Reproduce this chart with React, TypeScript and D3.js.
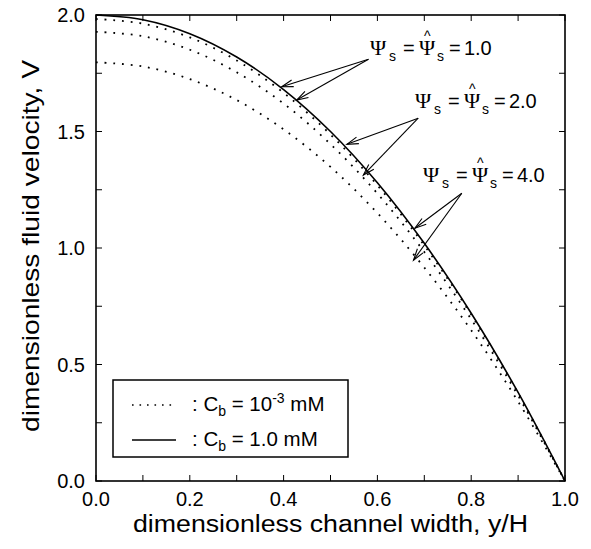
import React from 'react';
import * as d3 from 'd3';

// y/H positions at which the curves were read
const xPos = [0, 0.1, 0.2, 0.3, 0.4, 0.5, 0.6, 0.7, 0.8, 0.9, 1.0];
// Cb = 1.0 mM (solid; the three Psi values overlap)
const solidCb1 = [2.0, 1.98, 1.92, 1.82, 1.68, 1.5, 1.28, 1.02, 0.72, 0.38, 0];
// Cb = 1e-3 mM (dotted)
const dottedPsi1 = [1.983, 1.963, 1.904, 1.805, 1.666, 1.487, 1.269, 1.011, 0.714, 0.377, 0];
const dottedPsi2 = [1.928, 1.909, 1.851, 1.754, 1.62, 1.446, 1.234, 0.983, 0.694, 0.366, 0];
const dottedPsi4 = [1.797, 1.779, 1.725, 1.635, 1.509, 1.348, 1.15, 0.916, 0.647, 0.341, 0];

const xMajor = [0, 0.2, 0.4, 0.6, 0.8, 1.0];
const xMinor = [0.1, 0.3, 0.5, 0.7, 0.9];
const yMajor = [0, 0.5, 1.0, 1.5, 2.0];
const yMinor = [0.25, 0.75, 1.25, 1.75];

// annotations (data coordinates)
const annValues = ['1.0', '2.0', '4.0'];
const annTextX = [0.584, 0.68, 0.697];
const annTextY = [1.828, 1.601, 1.283];
const arrowFromX = [0.581, 0.687, 0.78];
const arrowFromY = [1.81, 1.557, 1.235];
const arrowSolidTipX = [0.396, 0.535, 0.68];
const arrowSolidTipY = [1.692, 1.445, 1.085];
const arrowDotTipX = [0.428, 0.57, 0.677];
const arrowDotTipY = [1.635, 1.313, 0.948];

const W = 591, H = 549;
const M = { left: 96, top: 15, right: 26, bottom: 68 };
const SANS = 'Liberation Sans, Arial, Helvetica, sans-serif';
const SERIF = 'Liberation Serif, Times New Roman, serif';

function Arrow({ x1, y1, x2, y2 }: { x1: number; y1: number; x2: number; y2: number }) {
  const ang = Math.atan2(y1 - y2, x1 - x2);
  const L = 12, a = (17 * Math.PI) / 180;
  const h1 = [x2 + L * Math.cos(ang + a), y2 + L * Math.sin(ang + a)];
  const h2 = [x2 + L * Math.cos(ang - a), y2 + L * Math.sin(ang - a)];
  return (
    <g stroke="#000" strokeWidth={1.1} fill="none">
      <line x1={x1} y1={y1} x2={x2} y2={y2} />
      <polyline points={`${h1[0]},${h1[1]} ${x2},${y2} ${h2[0]},${h2[1]}`} />
    </g>
  );
}

export default function App() {
  const x = d3.scaleLinear().domain([0, 1]).range([M.left, W - M.right]);
  const y = d3.scaleLinear().domain([0, 2]).range([H - M.bottom, M.top]);
  const line = (vals: number[]) =>
    d3
      .line<number>()
      .x((_, i) => x(xPos[i]))
      .y((v) => y(v))
      .curve(d3.curveCatmullRom.alpha(0.5))(vals) as string;

  const x0 = x(0), x1 = x(1), y0 = y(0), y1 = y(2);
  const tk = 6;

  return (
    <svg width={W} height={H} style={{ position: 'absolute', left: 0, top: 0, background: '#fff' }}>
      <rect width={W} height={H} fill="#fff" />
      {/* curves */}
      {[dottedPsi1, dottedPsi2, dottedPsi4].map((d, i) => (
        <path key={'d' + i} d={line(d)} fill="none" stroke="#000" strokeWidth={1.8} strokeDasharray="1.8 6.9" />
      ))}
      <path d={line(solidCb1)} fill="none" stroke="#000" strokeWidth={1.6} />

      {/* frame */}
      <rect x={x0} y={y1} width={x1 - x0} height={y0 - y1} fill="none" stroke="#000" strokeWidth={1.6} />
      {/* ticks */}
      <g stroke="#000" strokeWidth={1}>
        {[...xMajor, ...xMinor].map((v, i) => (
          <g key={'xt' + i}>
            <line x1={x(v)} x2={x(v)} y1={y0} y2={y0 - tk} />
            <line x1={x(v)} x2={x(v)} y1={y1} y2={y1 + tk} />
          </g>
        ))}
        {[...yMajor, ...yMinor].map((v, i) => (
          <g key={'yt' + i}>
            <line x1={x0} x2={x0 + tk} y1={y(v)} y2={y(v)} />
            <line x1={x1} x2={x1 - tk} y1={y(v)} y2={y(v)} />
          </g>
        ))}
      </g>
      {/* tick labels */}
      <g fontFamily={SANS} fontSize={20} fill="#000">
        {xMajor.map((v, i) => (
          <text key={'xl' + i} x={x(v)} y={y0 + 25} textAnchor="middle">
            {d3.format('.1f')(v)}
          </text>
        ))}
        {yMajor.map((v, i) => (
          <text key={'yl' + i} x={x0 - 11} y={y(v) + 7} textAnchor="end">
            {d3.format('.1f')(v)}
          </text>
        ))}
      </g>
      {/* axis titles */}
      <text
        x={133}
        y={532}
        fontFamily={SANS}
        fontSize={23.5}
        textLength={395}
        lengthAdjust="spacingAndGlyphs"
      >
        dimensionless channel width, y/H
      </text>
      <text
        transform={`translate(39,432) rotate(-90)`}
        fontFamily={SANS}
        fontSize={24}
        textLength={372}
        lengthAdjust="spacingAndGlyphs"
      >
        dimensionless fluid velocity, V
      </text>

      {/* annotations */}
      {annValues.map((val, i) => {
        const tx = x(annTextX[i]);
        const ty = y(annTextY[i]);
        return (
          <g key={'ann' + i}>
            <text x={tx} y={ty} fontFamily={SANS} fontSize={20} fill="#000">
              <tspan x={tx} y={ty} fontFamily={SERIF} fontSize={22}>Ψ</tspan>
              <tspan x={tx + 19} y={ty + 6} fontSize={14}>s</tspan>
              <tspan x={tx + 33} y={ty}>=</tspan>
              <tspan x={tx + 49} y={ty} fontFamily={SERIF} fontSize={22}>Ψ</tspan>
              <tspan x={tx + 54} y={ty - 14} fontSize={14}>^</tspan>
              <tspan x={tx + 67} y={ty + 6} fontSize={14}>s</tspan>
              <tspan x={tx + 79} y={ty}>=</tspan>
              <tspan x={tx + 94} y={ty}>{val}</tspan>
            </text>
            <Arrow x1={x(arrowFromX[i])} y1={y(arrowFromY[i])} x2={x(arrowSolidTipX[i])} y2={y(arrowSolidTipY[i])} />
            <Arrow x1={x(arrowFromX[i])} y1={y(arrowFromY[i])} x2={x(arrowDotTipX[i])} y2={y(arrowDotTipY[i])} />
          </g>
        );
      })}

      {/* legend */}
      <g>
        <rect x={113} y={380} width={235} height={77} fill="#fff" stroke="#000" strokeWidth={1.5} />
        <line x1={132} x2={176} y1={405} y2={405} stroke="#000" strokeWidth={1.6} strokeDasharray="1.6 5.9" />
        <line x1={132} x2={176} y1={440} y2={440} stroke="#000" strokeWidth={1.6} />
        <text x={192} y={411} fontFamily={SANS} fontSize={20.5}>
          : C<tspan dy={5} fontSize={14}>b</tspan>
          <tspan dy={-5}> = 10</tspan>
          <tspan dy={-8} fontSize={14}>-3</tspan>
          <tspan dy={8}> mM</tspan>
        </text>
        <text x={192} y={446} fontFamily={SANS} fontSize={20.5}>
          : C<tspan dy={5} fontSize={14}>b</tspan>
          <tspan dy={-5}> = 1.0 mM</tspan>
        </text>
      </g>
    </svg>
  );
}
